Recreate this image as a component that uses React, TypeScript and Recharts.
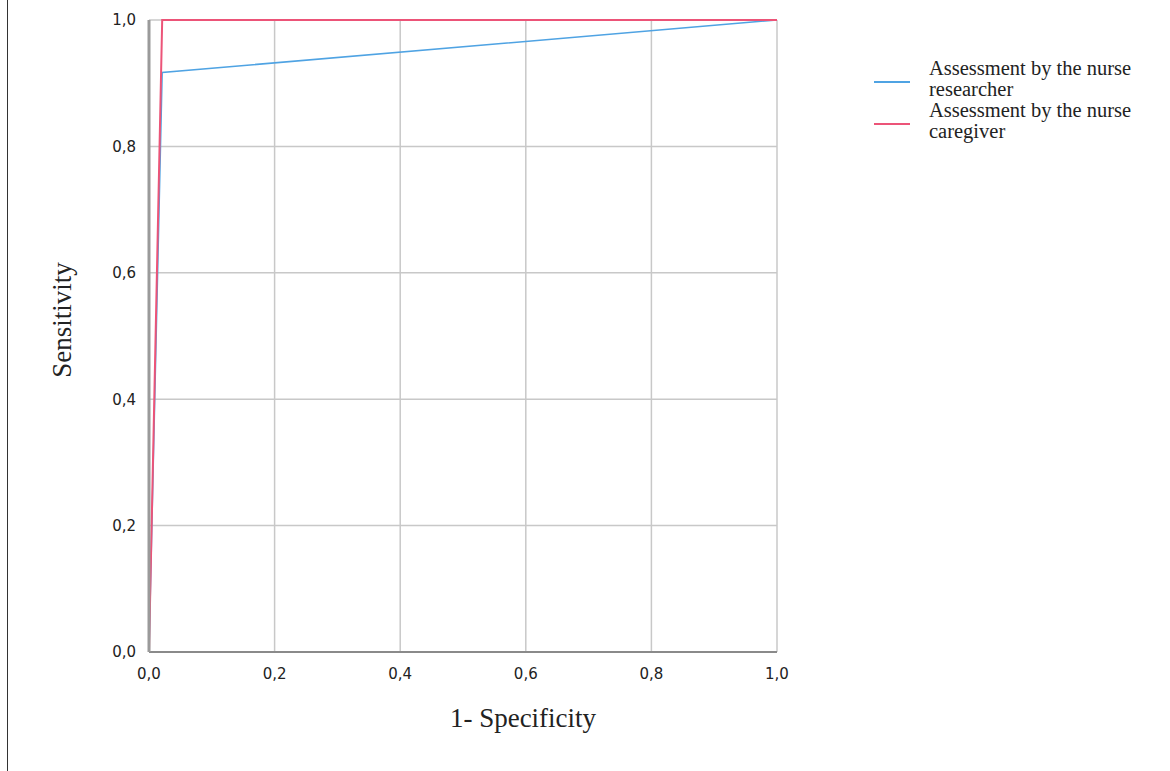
import React from 'react';
import { LineChart, Line, XAxis, YAxis, CartesianGrid } from 'recharts';

const researcherX = [0, 0.021, 1];
const researcherY = [0, 0.917, 1];
const caregiverX = [0, 0.021, 1];
const caregiverY = [0, 1, 1];
const tickValues = [0, 0.2, 0.4, 0.6, 0.8, 1];
const seriesNames = ['Assessment by the nurse researcher', 'Assessment by the nurse caregiver'];
const legendLines = [['Assessment by the nurse', 'researcher'], ['Assessment by the nurse', 'caregiver']];
const seriesColors = ['#4FA3E3', '#EC5478'];

const researcherData = researcherX.map((x, i) => ({ x, y: researcherY[i] }));
const caregiverData = caregiverX.map((x, i) => ({ x, y: caregiverY[i] }));

const fmt = (v: number) => v.toFixed(1).replace('.', ',');

const LegendBox = () => (
  <div style={{ position: 'absolute', left: 874, top: 58, width: 290, fontFamily: '"Liberation Serif", "Times New Roman", serif', fontSize: 20.5, color: '#222' }}>
    {legendLines.map((lines, i) => (
      <div key={i} style={{ display: 'flex', alignItems: 'center' }}>
        <div style={{ width: 36, height: 2, background: seriesColors[i], marginRight: 19, marginTop: 6 }} />
        <div style={{ lineHeight: '21px' }}>
          {lines.map((l, j) => <div key={j}>{l}</div>)}
        </div>
      </div>
    ))}
  </div>
);

export default function App() {
  return (
    <div style={{ position: 'absolute', left: 0, top: 0, width: 1170, height: 771, background: '#fff' }}>
      <div style={{ position: 'absolute', left: 7, top: 0, width: 1, height: 771, background: '#333' }} />
      <LineChart width={1170} height={771} margin={{ top: 20, right: 393, bottom: 89, left: 89 }}>
        <CartesianGrid stroke="#c8c8c8" strokeWidth={1.5} />
        <XAxis
          type="number"
          dataKey="x"
          domain={[0, 1]}
          ticks={tickValues}
          tickFormatter={fmt}
          height={30}
          tickLine={false}
          tickMargin={10}
          axisLine={{ stroke: '#8a8a8a', strokeWidth: 2 }}
          tick={{ fill: '#222', fontSize: 15, fontFamily: '"DejaVu Sans", sans-serif' }}
          label={{ value: '1- Specificity', position: 'bottom', offset: 26, dx: 60, fill: '#222', fontSize: 27, fontFamily: '"Liberation Serif", "Times New Roman", serif' }}
        />
        <YAxis
          type="number"
          dataKey="y"
          domain={[0, 1]}
          ticks={tickValues}
          tickFormatter={fmt}
          width={60}
          tickLine={false}
          tickMargin={7}
          axisLine={{ stroke: '#9a9a9a', strokeWidth: 3 }}
          tick={{ fill: '#222', fontSize: 15, fontFamily: '"DejaVu Sans", sans-serif' }}
          label={{ value: 'Sensitivity', angle: -90, position: 'insideLeft', offset: -28, dy: -16, fill: '#222', fontSize: 27, fontFamily: '"Liberation Serif", "Times New Roman", serif', style: { textAnchor: 'middle' } }}
        />
        <Line data={researcherData} dataKey="y" name={seriesNames[0]} type="linear" stroke={seriesColors[0]} strokeWidth={1.5} dot={false} isAnimationActive={false} />
        <Line data={caregiverData} dataKey="y" name={seriesNames[1]} type="linear" stroke={seriesColors[1]} strokeWidth={2} dot={false} isAnimationActive={false} />
      </LineChart>
      <LegendBox />
    </div>
  );
}
